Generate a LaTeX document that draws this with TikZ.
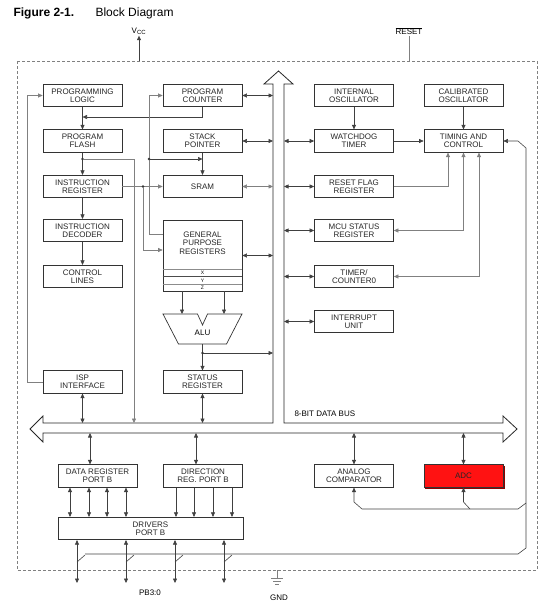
\documentclass[tikz,border=0pt]{standalone}
\usepackage{fontspec}
\setmainfont{Liberation Sans}
\usetikzlibrary{arrows.meta,calc,backgrounds}
\definecolor{adcred}{RGB}{255,18,18}
\definecolor{adcdark}{RGB}{140,0,0}
\newcommand{\blkfont}{\fontsize{8}{8.3}\selectfont}

\begin{document}
\begin{tikzpicture}[x=1pt, y=-1pt,
  blk/.style={draw=black!80, line width=0.7pt, minimum width=79pt, minimum height=22.5pt, inner sep=0pt, align=center, font=\blkfont, text=black!85},
  one/.style={-{Triangle[length=4.5pt,width=4pt]}, draw=black!75, line width=0.6pt},
  two/.style={{Triangle[length=4.5pt,width=4pt]}-{Triangle[length=4.5pt,width=4pt]}, draw=black!75, line width=0.6pt},
  wire/.style={draw=black!75, line width=0.6pt},
  dim/.style={draw=black!50}
]
  \useasboundingbox (0,0) rectangle (552,608);

  % Title
  \node[anchor=base west, font=\fontsize{12}{14}\selectfont\bfseries] (fig) at (10,16) {Figure 2-1.};
  \node[anchor=base west, font=\fontsize{12}{14}\selectfont] (ttl) at (92,16) {Block Diagram};

  % Chip outline
  \draw[black!50, dash pattern=on 3pt off 2pt, line width=0.6pt] (17,61) rectangle (537,570);

  % Supply, reset, ground
  \node[font=\blkfont, inner sep=1pt] (vcc) at (139,31) {V\textsubscript{CC}};
  \coordinate (vccin) at (139,61);
  \draw[one] (vccin) -- (vcc.south);
  \node[font=\blkfont, inner sep=1pt] (rst) at (409,31) {$\overline{\hbox{\blkfont RESET}}$};
  \coordinate (rstin) at (409,61);
  \draw[wire, dim] (rst.south) -- (rstin);
  \coordinate (gnd) at (277,570);
  \draw[wire, dim] (gnd) -- ++(0,8);
  \draw[wire, dim] (271,578) -- (283,578) (273,581) -- (281,581) (275,584) -- (279,584);
  \node[font=\blkfont] (gndname) at (279,598) {GND};

  % 8-bit data bus
  \draw[black!85, line width=0.8pt, fill=white] (278.5,71) -- (293,84) -- (284,84) -- (284,423)
    -- (503,423) -- (503,416) -- (517,429) -- (503,442) -- (503,433) -- (43,433) -- (43,442)
    -- (30,429) -- (43,416) -- (43,423) -- (273,423) -- (273,84) -- (264,84) -- cycle;
  \node[anchor=base west, font=\blkfont] (busname) at (291,416) {8-BIT DATA BUS};
  \coordinate (busl) at (273,0);
  \coordinate (busr) at (284,0);
  \coordinate (bust) at (0,423);
  \coordinate (busb) at (0,433);

  % CPU side
  \node[blk] (plogic) at (82.5,95.5) {PROGRAMMING\\LOGIC};
  \node[blk] (pc) at (202.5,95.5) {PROGRAM\\COUNTER};
  \node[blk] (flash) at (82.5,141) {PROGRAM\\FLASH};
  \node[blk] (sp) at (202.5,141) {STACK\\POINTER};
  \node[blk] (ir) at (82.5,186.5) {INSTRUCTION\\REGISTER};
  \node[blk] (sram) at (202.5,186.5) {SRAM};
  \node[blk] (idec) at (82.5,230.5) {INSTRUCTION\\DECODER};
  \node[blk] (ctrl) at (82.5,276.5) {CONTROL\\LINES};
  \node[blk, minimum height=71pt] (gpr) at (202.5,255.5) {};
  \node[font=\blkfont, align=center, text=black!85] (gprname) at (202.5,243) {GENERAL\\PURPOSE\\REGISTERS};
  \draw[black!45] (gpr.west |- 0,269) -- (gpr.east |- 0,269);
  \draw[black!70] (gpr.west |- 0,276.5) -- (gpr.east |- 0,276.5);
  \draw[black!45] (gpr.west |- 0,284) -- (gpr.east |- 0,284);
  \node[font=\fontsize{5}{5}\selectfont] (xreg) at (202.5,272.8) {X};
  \node[font=\fontsize{5}{5}\selectfont] (yreg) at (202.5,280.3) {Y};
  \node[font=\fontsize{5}{5}\selectfont] (zreg) at (202.5,287.8) {Z};
  \draw[black!80, line width=0.7pt] (163,314) -- (197.5,314) -- (202.5,325) -- (207.5,314) -- (242,314)
    -- (226.5,344) -- (178.5,344) -- cycle;
  \node[font=\blkfont] (alu) at (202.5,333) {ALU};
  \node[blk] (isp) at (82.5,382) {ISP\\INTERFACE};
  \node[blk] (sreg) at (202.5,382) {STATUS\\REGISTER};

  % Peripheral side
  \node[blk] (iosc) at (354,95.5) {INTERNAL\\OSCILLATOR};
  \node[blk] (cosc) at (463.5,95.5) {CALIBRATED\\OSCILLATOR};
  \node[blk] (wdt) at (354,141) {WATCHDOG\\TIMER};
  \node[blk] (tctl) at (463.5,141) {TIMING AND\\CONTROL};
  \node[blk] (rfr) at (354,186.5) {RESET FLAG\\REGISTER};
  \node[blk] (mcusr) at (354,230.5) {MCU STATUS\\REGISTER};
  \node[blk] (tc0) at (354,276.5) {TIMER/\\COUNTER0};
  \node[blk] (irq) at (354,321.5) {INTERRUPT\\UNIT};

  % Port B and analog
  \node[blk] (dreg) at (97.5,476) {DATA REGISTER\\PORT B};
  \node[blk] (ddr) at (203,476) {DIRECTION\\REG. PORT B};
  \node[blk] (acmp) at (354,476) {ANALOG\\COMPARATOR};
  \node[blk, fill=adcred] (adc) at (463.5,476) {ADC};
  \begin{scope}[on background layer]
    \fill[adcdark] ([shift={(1.5,1.5)}]adc.north west) rectangle ([shift={(1.5,1.5)}]adc.south east);
  \end{scope}
  \node[blk, minimum width=185pt] (drv) at (150.5,528.5) {DRIVERS\\PORT B};
  \node[font=\blkfont] (pbname) at (150,593) {PB3:0};

  % Program flow
  \draw[one, dim] (isp.west) -- ++(-15,0) |- (plogic.west);
  \coordinate (pcj) at (82.5,117);
  \draw[one] (pc.south) |- (pcj);
  \draw[one] (plogic) -- (flash);
  \draw[one] (flash) -- (ir);
  \coordinate (fj) at (82.5,159);
  \fill[black!80] (fj) circle (1.3pt);
  \draw[one, dim] (fj) -| (134,423);
  \draw[one] (ir) -- (idec);
  \draw[one] (idec) -- (ctrl);
  \draw[one, dim] (ir) -- (sram);
  \coordinate (irj) at (143,186.5);
  \fill[black!80] (irj) circle (1.3pt);
  \draw[one, dim] (irj) |- (gpr.west |- 0,250);
  \draw[one, dim] (gpr.west |- 0,234) -| (pc.west -| 149,0) -- (pc.west);
  \coordinate (spj) at (149,159);
  \fill[black!80] (spj) circle (1.3pt);
  \draw[one] (spj) -- (sp.south |- spj);
  \draw[one] (sp) -- (sram);
  \draw[one] (gpr.south -| 182,0) -- (182,314);
  \draw[one] (gpr.south -| 224,0) -- (224,314);
  \coordinate (aluj) at (202.5,353);
  \draw[one] (alu.south |- 0,344) -- (sreg.north);
  \fill[black!80] (aluj) circle (1.3pt);
  \draw[one] (aluj) -- (aluj -| busl);

  % Bus links, CPU side
  \draw[two] (pc.east) -- (pc.east -| busl);
  \draw[two] (sp.east) -- (sp.east -| busl);
  \draw[two, dim] (sram.east) -- (sram.east -| busl);
  \draw[two] (gpr.east) -- (gpr.east -| busl);
  \draw[two] (isp.south) -- (isp.south |- bust);
  \draw[two] (sreg.south) -- (sreg.south |- bust);

  % Bus links, peripheral side
  \foreach \blk in {wdt, rfr, mcusr, tc0, irq}
    \draw[two] (\blk.west -| busr) -- (\blk.west);
  \draw[one] (iosc) -- (wdt);
  \draw[one] (cosc) -- (tctl);
  \draw[one] (wdt) -- (tctl);
  \draw[one, dim] (rfr.east) -| ([xshift=-15.5pt]tctl.south);
  \draw[two, dim] (tctl.south) |- (mcusr.east);
  \draw[two, dim] ([xshift=15.5pt]tctl.south) |- (tc0.east);

  % Bus links, bottom
  \draw[two] ([xshift=-7.5pt]dreg.north) -- ([xshift=-7.5pt]dreg.north |- busb);
  \draw[two] ([xshift=-7pt]ddr.north) -- ([xshift=-7pt]ddr.north |- busb);
  \draw[two] (acmp.north) -- (acmp.north |- busb);
  \draw[two] (adc.north) -- (adc.north |- busb);

  % Port B
  \foreach \px in {70,89,107,126}
    \draw[two] (dreg.south -| \px,0) -- (drv.north -| \px,0);
  \foreach \px in {176,194,213,232}
    \draw[one] (ddr.south -| \px,0) -- (drv.north -| \px,0);
  \foreach \px [count=\i] in {77,126,175,224} {
    \coordinate (pin\i) at (\px,583);
    \draw[two] (drv.south -| pin\i) -- (pin\i);
    \draw[wire] (\px,562) -- ++(8,-7);
  }

  % Pin return to timing and analog
  \coordinate (ret) at (85,554);
  \draw[one] (ret) -- (518,554) -- (526,548) -- (526,148) -- (518,141) -- (tctl.east);
  \draw[one] (526,503) -- (518,509) -- (362,509) -- (354,502) -- (acmp.south);
  \draw[one] (470,509) -- (463.5,502) -- (adc.south);
\end{tikzpicture}
\end{document}
